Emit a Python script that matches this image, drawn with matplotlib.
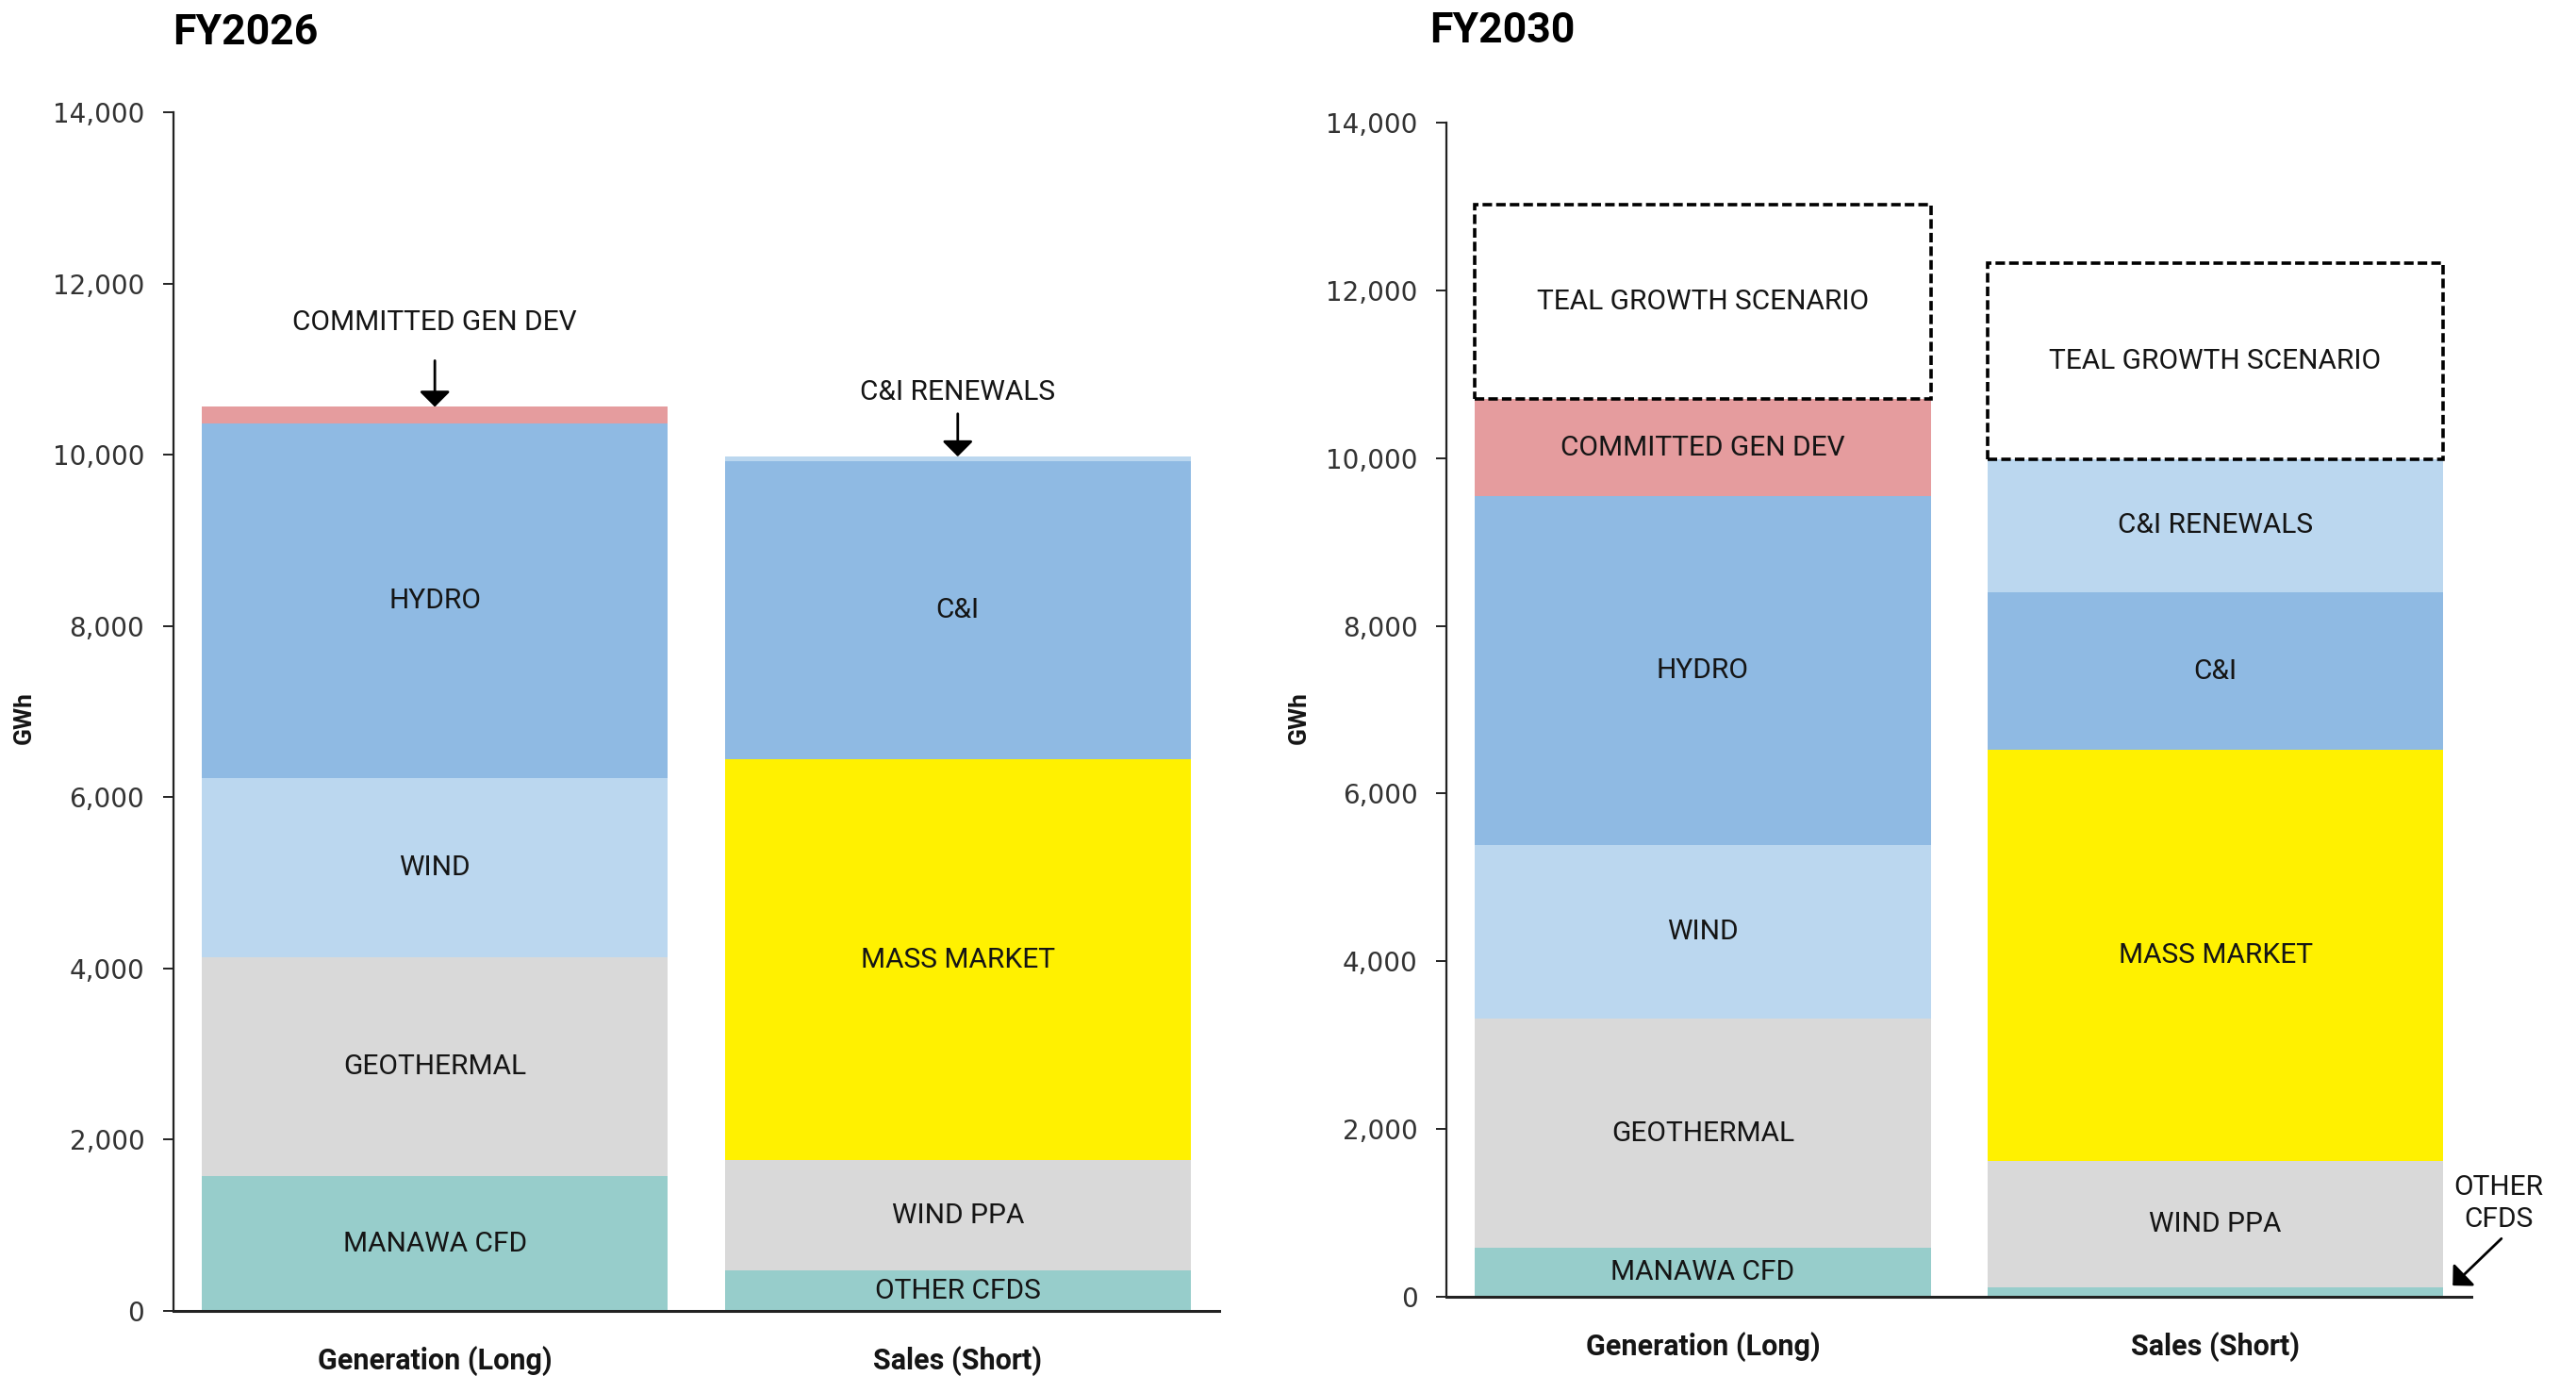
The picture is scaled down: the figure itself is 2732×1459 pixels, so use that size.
import matplotlib
matplotlib.use("Agg")
import matplotlib.pyplot as plt

plt.rcParams['font.family'] = ['Roboto', 'DejaVu Sans']

# Stack order is bottom to top
categories = ["Generation (Long)", "Sales (Short)"]
gen_labels = ["MANAWA CFD", "GEOTHERMAL", "WIND", "HYDRO", "COMMITTED GEN DEV"]
sales_labels = ["OTHER CFDS", "WIND PPA", "MASS MARKET", "C&I", "C&I RENEWALS"]

gen_2026 = [1575, 2555, 2095, 4140, 195]
sales_2026 = [470, 1290, 4685, 3485, 50]

gen_2030 = [580, 2730, 2070, 4165, 1160]
sales_2030 = [110, 1505, 4905, 1880, 1590]
growth_2030 = [2320, 2330]   # teal growth scenario on top of gen / sales

y_ticks = [0, 2000, 4000, 6000, 8000, 10000, 12000, 14000]

gen_colors = ["#97cdcb", "#d9d9d9", "#bbd7ef", "#8fbae3", "#e59c9e"]
sales_colors = ["#97cdcb", "#d9d9d9", "#fff100", "#8fbae3", "#bbd7ef"]

BAR_W = 0.89
LABEL_FS = 21.5
TXT = "#151515"


def stacked(ax, x, values, labels, colors, show):
    base = 0
    for v, lab, c in zip(values, labels, colors):
        ax.bar(x, v, BAR_W, bottom=base, color=c, edgecolor="none")
        if lab in show:
            ax.text(x, base + v / 2, lab, ha="center", va="center",
                    fontsize=LABEL_FS, color=TXT)
        base += v
    return base


def growth_box(ax, x, bottom, height):
    ax.bar(x, height, BAR_W, bottom=bottom, color="white", edgecolor="black",
           linewidth=2.6, linestyle=(0, (2.8, 1.2)))
    ax.text(x, bottom + height / 2, "TEAL GROWTH SCENARIO", ha="center",
            va="center", fontsize=LABEL_FS, color=TXT)


def style_axes(ax):
    ax.set_xlim(-0.5, 1.5)
    ax.set_ylim(0, 14000)
    for s in ["top", "right"]:
        ax.spines[s].set_visible(False)
    ax.spines["left"].set_linewidth(1.6)
    ax.spines["bottom"].set_linewidth(2.2)
    ax.spines["left"].set_color("#222222")
    ax.spines["bottom"].set_color("#222222")
    ax.set_yticks(y_ticks)
    ax.set_yticklabels([f"{t:,}" for t in y_ticks], family="DejaVu Sans",
                       fontsize=20, color="#333333")
    ax.tick_params(axis="y", length=8, width=1.4, pad=14, color="#222222")
    ax.set_xticks([0, 1])
    ax.set_xticklabels(categories, fontsize=22, fontweight="bold", color=TXT)
    ax.tick_params(axis="x", length=0, pad=27)
    ax.set_ylabel("GWh", fontsize=19, fontweight="bold", color=TXT)


fig = plt.figure(figsize=(27.32, 14.59), dpi=100)
ax1 = fig.add_axes([0.0673, 0.0473, 0.406, 0.871])
ax2 = fig.add_axes([0.5615, 0.0578, 0.398, 0.853])

# FY2026
style_axes(ax1)
ax1.yaxis.set_label_coords(-0.132, 0.495)
top_gen = stacked(ax1, 0, gen_2026, gen_labels, gen_colors, gen_labels[:4])
top_sales = stacked(ax1, 1, sales_2026, sales_labels, sales_colors, sales_labels[:4])

arrow = dict(arrowstyle="-|>,head_length=0.4,head_width=0.4", mutation_scale=25,
             color="black", lw=2, shrinkA=0, shrinkB=0)
ax1.text(0, 11540, "COMMITTED GEN DEV", ha="center", va="center",
         fontsize=LABEL_FS, color=TXT)
ax1.annotate("", xy=(0, top_gen), xytext=(0, 11100), arrowprops=arrow)
ax1.text(1, 10735, "C&I RENEWALS", ha="center", va="center",
         fontsize=LABEL_FS, color=TXT)
ax1.annotate("", xy=(1, top_sales), xytext=(1, 10480), arrowprops=arrow)

# FY2030
style_axes(ax2)
ax2.yaxis.set_label_coords(-0.133, 0.493)
top_gen = stacked(ax2, 0, gen_2030, gen_labels, gen_colors, gen_labels)
top_sales = stacked(ax2, 1, sales_2030, sales_labels, sales_colors, sales_labels[1:])
growth_box(ax2, 0, top_gen, growth_2030[0])
growth_box(ax2, 1, top_sales, growth_2030[1])

ax2.text(1.553, 1110, "OTHER\nCFDS", ha="center", va="center",
         fontsize=LABEL_FS, color=TXT, linespacing=1.3, clip_on=False)
ax2.annotate("", xy=(1.463, sales_2030[0] + 20), xytext=(1.558, 690),
             arrowprops=arrow, annotation_clip=False)

fig.text(183 / 2732, 1 - 35 / 1459, "FY2026", fontsize=32, fontweight="bold",
         ha="left", va="center", color="black")
fig.text(1516 / 2732, 1 - 33 / 1459, "FY2030", fontsize=32, fontweight="bold",
         ha="left", va="center", color="black")

fig.savefig("out.png", dpi=100, facecolor="white")
plt.close(fig)
